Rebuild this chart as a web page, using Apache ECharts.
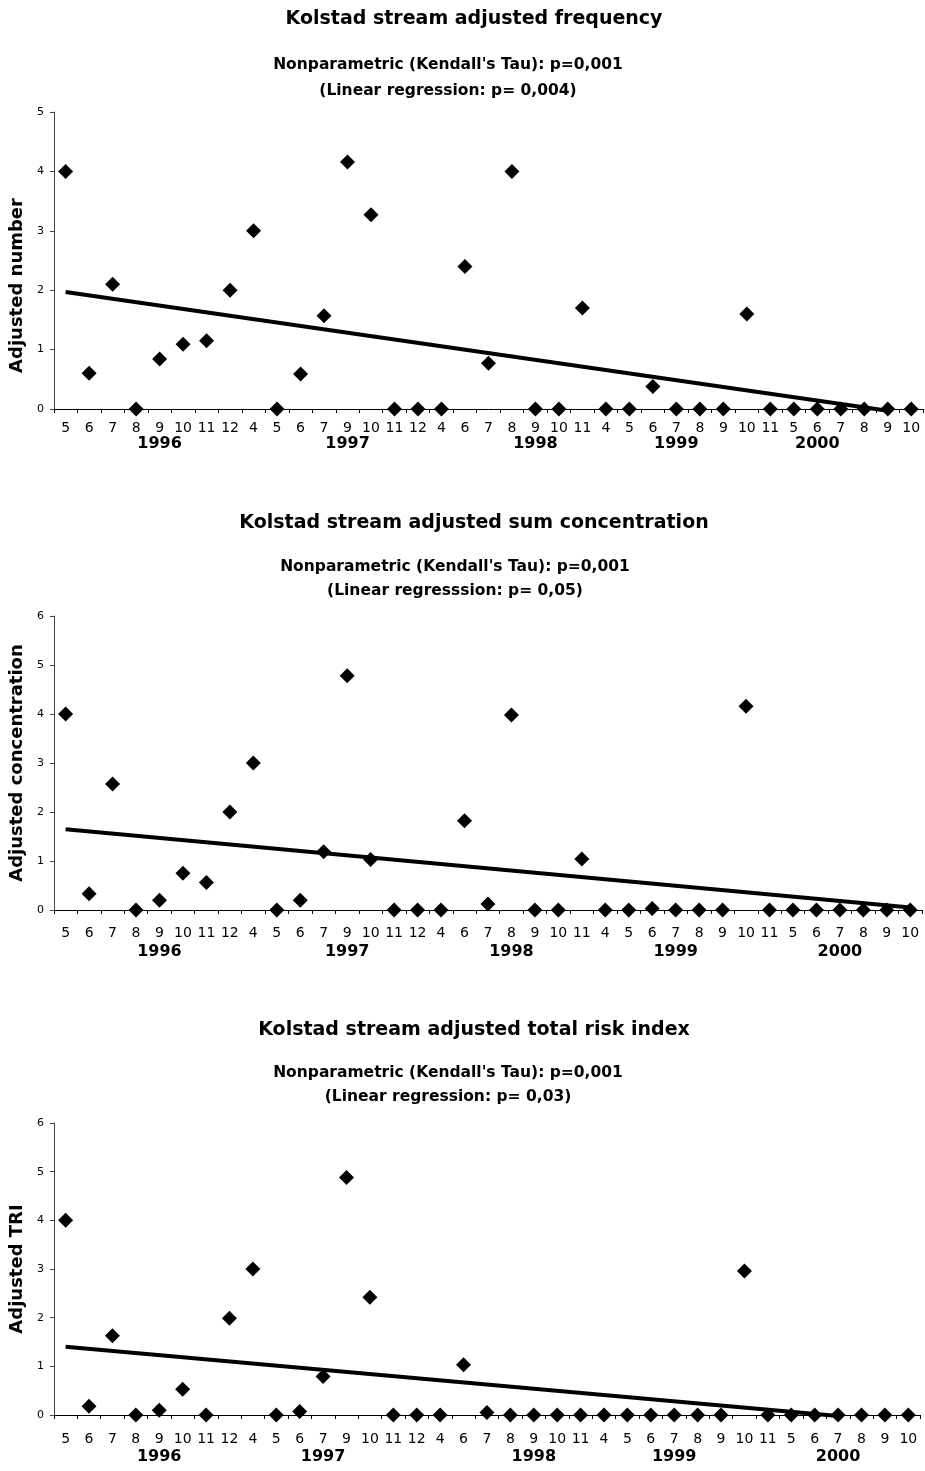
<!DOCTYPE html>
<html><head><meta charset="utf-8">
<script src="https://cdn.jsdelivr.net/npm/echarts@6/dist/echarts.min.js"></script>
<style>html,body{margin:0;padding:0;background:#fff}#c{width:925px;height:1471px}</style>
</head><body><div id="c"></div>
<script>
// Sampling months (category axis), grouped by year below
const months = ['5','6','7','8','9','10','11','12','4','5','6','7','9','10','11','12','4','6','7','8','9','10','11','4','5','6','7','8','9','10','11','5','6','7','8','9','10'];
const years = ['1996','1997','1998','1999','2000'];

// Panel 1: adjusted frequency
const frequency = [4.0,0.6,2.1,0,0.84,1.09,1.15,2.0,3.0,0,0.59,1.57,4.16,3.27,0,0,0,2.4,0.77,4.0,0,0,1.7,0,0,0.38,0,0,0,1.6,0,0,0,0,0,0,0];
// Panel 2: adjusted sum concentration
const concentration = [4.0,0.33,2.57,0,0.2,0.75,0.56,2.0,3.0,0,0.2,1.19,4.78,1.03,0,0,0,1.82,0.12,3.98,0,0,1.04,0,0,0.03,0,0,0,4.16,0,0,0,0,0,0,0];
// Panel 3: adjusted total risk index
const tri = [4.0,0.18,1.63,0,0.1,0.53,0,1.99,3.0,0,0.07,0.79,4.88,2.42,0,0,0,1.03,0.05,0,0,0,0,0,0,0,0,0,0,2.96,0,0,0,0,0,0,0];

// Regression lines: [category index, value] end points
const trendFrequency = [[0,1.97],[35,-0.03]];
const trendConcentration = [[0,1.65],[36,0.05]];
const trendTri = [[0,1.40],[33,-0.02]];

// Year label positions in category units
const yearPosFrequency = [4.3,12.0,19.7,25.8,32.1];
const yearPosConcentration = [3.7,11.5,19.3,25.9,32.7];
const yearPosTri = [3.65,11.1,19.5,26.0,32.8];

const titles = ['Kolstad stream adjusted frequency','Kolstad stream adjusted sum concentration','Kolstad stream adjusted total risk index'];
const subtitles1 = ["Nonparametric (Kendall's Tau): p=0,001","Nonparametric (Kendall's Tau): p=0,001","Nonparametric (Kendall's Tau): p=0,001"];
const subtitles2 = ['(Linear regression: p= 0,004)','(Linear regresssion: p= 0,05)','(Linear regression: p= 0,03)'];
const yNames = ['Adjusted number','Adjusted concentration','Adjusted TRI'];
const yMax = [5,6,6];

const seriesValues = [frequency, concentration, tri];
const trends = [trendFrequency, trendConcentration, trendTri];
const yearPos = [yearPosFrequency, yearPosConcentration, yearPosTri];

const grids = [
  {left:53,right:2,top:112,height:297},
  {left:52,right:3,top:616,height:294},
  {left:49,right:5,top:1123,height:292}
];
const monthMargin = [12,16,17];
const yearOffset = [35,42,42];
const titleY = [19,523,1030];
const sub1Y = [65,567,1073];
const sub2Y = [91,591,1097];
const subX = [448,455,448];
const namePad = [[0,50,0,0],0,0];

const FONT = 'DejaVu Sans';
const option = {
  animation:false,
  backgroundColor:'#fff',
  grid: grids,
  xAxis: grids.map((g,i)=>({
    type:'category', gridIndex:i, data:months, boundaryGap:true,
    axisLine:{show:true,lineStyle:{color:'#000',width:1}},
    axisTick:{show:true,length:4,lineStyle:{color:'#000'}},
    axisLabel:{interval:0,fontFamily:FONT,fontSize:14,color:'#000',margin:monthMargin[i]},
    splitLine:{show:false}
  })),
  yAxis: grids.map((g,i)=>({
    type:'value', gridIndex:i, min:0, max:yMax[i], interval:1,
    axisLine:{show:true,lineStyle:{color:'#444',width:1}},
    axisTick:{show:true,length:4,lineStyle:{color:'#444'}},
    axisLabel:{fontFamily:FONT,fontSize:11,color:'#000',margin:10},
    splitLine:{show:false},
    name:yNames[i], nameLocation:'middle', nameGap:22,
    nameTextStyle:{fontFamily:FONT,fontWeight:'bold',fontSize:18,color:'#000',padding:namePad[i]}
  })),
  series: []
};
seriesValues.forEach((vals,i)=>{
  option.series.push({
    type:'line', xAxisIndex:i, yAxisIndex:i, data:trends[i],
    showSymbol:false, symbol:'none', clip:false, silent:true, z:2,
    lineStyle:{color:'#000',width:4}
  });
  option.series.push({
    type:'scatter', xAxisIndex:i, yAxisIndex:i, data:vals,
    symbol:'diamond', symbolSize:15, clip:false, z:3,
    itemStyle:{color:'#000',opacity:1}
  });
});

const chart = echarts.init(document.getElementById('c'), null, {renderer:'canvas'});
chart.setOption(option);

const graphics = [];
for (let i=0;i<3;i++){
  graphics.push({type:'text', x:474, y:titleY[i], style:{text:titles[i], font:'bold 19px "DejaVu Sans"', fill:'#000', align:'center', verticalAlign:'middle'}});
  graphics.push({type:'text', x:subX[i], y:sub1Y[i], style:{text:subtitles1[i], font:'bold 15.5px "DejaVu Sans"', fill:'#000', align:'center', verticalAlign:'middle'}});
  graphics.push({type:'text', x:subX[i], y:sub2Y[i], style:{text:subtitles2[i], font:'bold 15.5px "DejaVu Sans"', fill:'#000', align:'center', verticalAlign:'middle'}});
  const y0 = chart.convertToPixel({yAxisIndex:i}, 0);
  years.forEach((yr,k)=>{
    const x = chart.convertToPixel({xAxisIndex:i}, yearPos[i][k]);
    graphics.push({type:'text', x:x, y:y0+yearOffset[i], style:{text:yr, font:'bold 16px "DejaVu Sans"', fill:'#000', align:'center', verticalAlign:'middle'}});
  });
}
chart.setOption({graphic:graphics});
</script>
</body></html>
